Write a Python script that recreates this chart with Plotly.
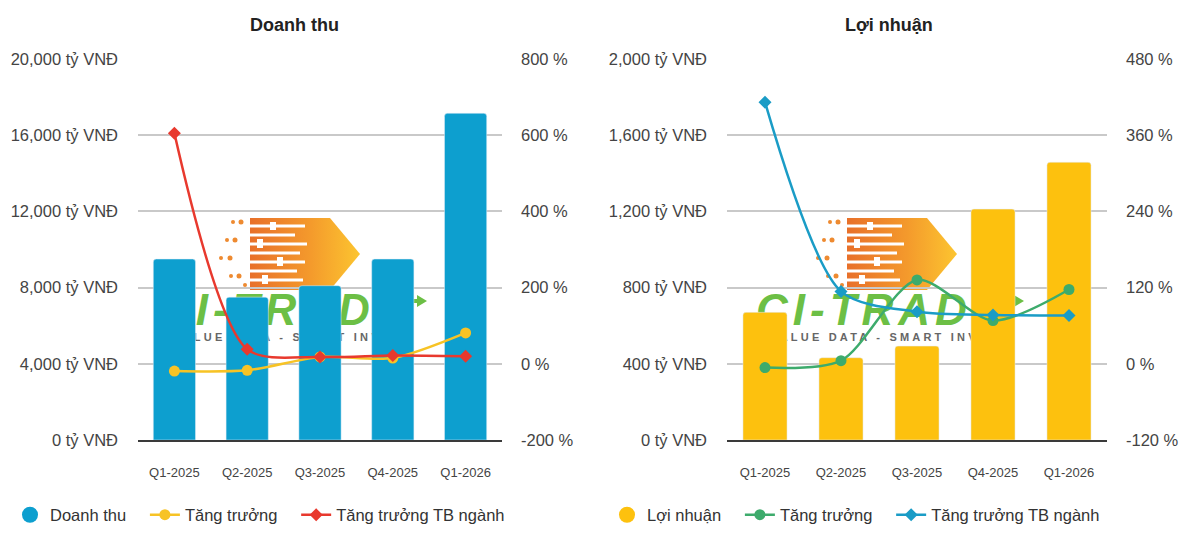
import base64
import plotly.graph_objects as go

quarters = ["Q1-2025", "Q2-2025", "Q3-2025", "Q4-2025", "Q1-2026"]
doanh_thu = [9500, 7500, 8100, 9500, 17150]
dt_growth = [-19, -17, 18, 15, 81]
dt_industry = [605, 38, 18, 22, 20]
loi_nhuan = [670, 432, 493, 1212, 1458]
ln_growth = [-6, 5, 132, 68, 117]
ln_industry = [412, 114, 82, 77, 76]

dt_ticks = [0, 4000, 8000, 12000, 16000, 20000]
dt_pct_ticks = [-200, 0, 200, 400, 600, 800]
ln_ticks = [0, 400, 800, 1200, 1600, 2000]
ln_pct_ticks = [-120, 0, 120, 240, 360, 480]

W, H = 1183, 533
FONT = "Liberation Sans, Arial, sans-serif"
TXT = "#444444"
NB = "\u00a0"

BLUE_BAR = "#0d9fcf"
YEL_BAR = "#fdc10e"
RED = "#e8392e"
YEL = "#f7c325"
GREEN = "#3dab6c"
BLUE_LINE = "#1a9cc6"

# watermark logo as svg
svg = """<svg xmlns='http://www.w3.org/2000/svg' width='275' height='130' viewBox='0 0 275 130'>
<defs><linearGradient id='g' x1='0' x2='1' y1='0' y2='0'>
<stop offset='0' stop-color='#e8702a'/><stop offset='0.55' stop-color='#f49a2c'/><stop offset='1' stop-color='#fcc530'/></linearGradient></defs>
<polygon points='95,3 175,3 205,39 175,75 95,75' fill='url(#g)'/>
<g stroke='#ffffff' stroke-width='3'>
<line x1='60' y1='11' x2='150' y2='11'/><line x1='60' y1='20' x2='140' y2='20'/>
<line x1='60' y1='29' x2='152' y2='29'/><line x1='60' y1='38' x2='145' y2='38'/>
<line x1='60' y1='47' x2='150' y2='47'/><line x1='60' y1='56' x2='142' y2='56'/>
<line x1='60' y1='65' x2='148' y2='65'/></g>
<g stroke='#ffffff' stroke-width='6'>
<line x1='118' y1='7' x2='118' y2='15'/><line x1='105' y1='24' x2='105' y2='33'/>
<line x1='125' y1='42' x2='125' y2='51'/><line x1='110' y1='60' x2='110' y2='69'/></g>
<g fill='#ee8a30'><circle cx='78' cy='7' r='2'/><circle cx='86' cy='7' r='2.5'/><circle cx='72' cy='25' r='2'/>
<circle cx='80' cy='25' r='2.5'/><circle cx='66' cy='43' r='2'/><circle cx='75' cy='43' r='2.5'/>
<circle cx='76' cy='61' r='2'/><circle cx='84' cy='61' r='2.5'/><circle cx='90' cy='70' r='2'/></g>
<text x='4' y='110' font-family='Liberation Sans, Arial' font-size='44' font-style='italic' font-weight='bold' fill='#6cbf45' letter-spacing='5'>CI-TRADE</text>
<polygon points='252,84 262,84 262,80 272,86 262,92 262,88 252,88' fill='#6cbf45'/>
<text x='18' y='126' font-family='Liberation Sans, Arial' font-size='11' font-weight='bold' fill='#666666' letter-spacing='3.2'>VALUE DATA - SMART INVEST</text>
</svg>"""
logo = "data:image/svg+xml;base64," + base64.b64encode(svg.encode("utf-8")).decode()

fig = go.Figure()

# left chart
fig.add_trace(go.Bar(x=quarters, y=doanh_thu, marker=dict(color=BLUE_BAR, cornerradius=3),
                     xaxis="x", yaxis="y", showlegend=False, hoverinfo="y"))
fig.add_trace(go.Scatter(x=[None], y=[None], mode="markers", name="Doanh thu" + NB * 3,
                         marker=dict(color=BLUE_BAR, size=17, symbol="circle"),
                         xaxis="x", yaxis="y", legend="legend"))
fig.add_trace(go.Scatter(x=quarters, y=dt_growth, mode="lines+markers", name="Tăng trưởng" + NB * 3,
                         line=dict(color=YEL, width=2.5, shape="spline", smoothing=0.8),
                         marker=dict(color=YEL, size=11, symbol="circle"),
                         xaxis="x", yaxis="y2", legend="legend"))
fig.add_trace(go.Scatter(x=quarters, y=dt_industry, mode="lines+markers", name="Tăng trưởng TB ngành",
                         line=dict(color=RED, width=2.5, shape="spline", smoothing=0.8),
                         marker=dict(color=RED, size=10, symbol="diamond"),
                         xaxis="x", yaxis="y2", legend="legend"))

# right chart
fig.add_trace(go.Bar(x=quarters, y=loi_nhuan, marker=dict(color=YEL_BAR, cornerradius=3),
                     xaxis="x2", yaxis="y3", showlegend=False, hoverinfo="y"))
fig.add_trace(go.Scatter(x=[None], y=[None], mode="markers", name="Lợi nhuận" + NB * 3,
                         marker=dict(color=YEL_BAR, size=17, symbol="circle"),
                         xaxis="x2", yaxis="y3", legend="legend2"))
fig.add_trace(go.Scatter(x=quarters, y=ln_growth, mode="lines+markers", name="Tăng trưởng" + NB * 3,
                         line=dict(color=GREEN, width=2.5, shape="spline", smoothing=0.8),
                         marker=dict(color=GREEN, size=11, symbol="circle"),
                         xaxis="x2", yaxis="y4", legend="legend2"))
fig.add_trace(go.Scatter(x=quarters, y=ln_industry, mode="lines+markers", name="Tăng trưởng TB ngành",
                         line=dict(color=BLUE_LINE, width=2.5, shape="spline", smoothing=0.8),
                         marker=dict(color=BLUE_LINE, size=10, symbol="diamond"),
                         xaxis="x2", yaxis="y4", legend="legend2"))

ydom = [1 - 440 / H, 1 - 59 / H]
xdom1 = [138 / W, 502 / W]
xdom2 = [727 / W, 1107 / W]

tickfont = dict(family=FONT, size=16.5, color=TXT)
catfont = dict(family=FONT, size=13, color=TXT)
grid = "#c9c9c9"

def xax(dom, anchor):
    return dict(domain=dom, anchor=anchor, type="category", showgrid=False,
                showline=True, linecolor="#3a3a3a", linewidth=1.5,
                tickfont=catfont, ticks="", ticklabelstandoff=20, zeroline=False, fixedrange=True)

def yleft(ticks, anchor):
    return dict(domain=ydom, anchor=anchor, range=[ticks[0], ticks[-1]],
                tickmode="array", tickvals=ticks,
                ticktext=[f"{v:,} tỷ VNĐ" for v in ticks],
                showgrid=True, gridcolor=grid, gridwidth=1.5, zeroline=False,
                tickfont=tickfont, ticklabelstandoff=19, showline=False)

def yright(ticks, anchor, over):
    return dict(overlaying=over, side="right", anchor=anchor, range=[ticks[0], ticks[-1]],
                tickmode="array", tickvals=ticks,
                ticktext=[f"{v} %" for v in ticks],
                showgrid=False, zeroline=False, tickfont=tickfont,
                ticklabelstandoff=18, showline=False)

legfont = dict(family=FONT, size=16.5, color="#333333")

fig.update_layout(
    width=W, height=H,
    margin=dict(l=0, r=0, t=0, b=0, autoexpand=False),
    paper_bgcolor="white", plot_bgcolor="white",
    font=dict(family=FONT, color=TXT),
    bargap=0.42,
    xaxis=xax(xdom1, "y"),
    yaxis=yleft(dt_ticks, "x"),
    yaxis2=yright(dt_pct_ticks, "x", "y"),
    xaxis2=xax(xdom2, "y3"),
    yaxis3=yleft(ln_ticks, "x2"),
    yaxis4=yright(ln_pct_ticks, "x2", "y3"),
    legend=dict(orientation="h", x=10 / W, y=1 - 515 / H, xanchor="left", yanchor="middle",
                font=legfont, bgcolor="rgba(0,0,0,0)", itemsizing="trace"),
    legend2=dict(orientation="h", x=607 / W, y=1 - 515 / H, xanchor="left", yanchor="middle",
                 font=legfont, bgcolor="rgba(0,0,0,0)", itemsizing="trace"),
    annotations=[
        dict(text="<b>Doanh thu</b>", x=294 / W, y=1 - 25 / H, xref="paper", yref="paper",
             xanchor="center", yanchor="middle", showarrow=False,
             font=dict(family=FONT, size=18, color="#222222")),
        dict(text="<b>Lợi nhuận</b>", x=889 / W, y=1 - 25 / H, xref="paper", yref="paper",
             xanchor="center", yanchor="middle", showarrow=False,
             font=dict(family=FONT, size=18, color="#222222")),
    ],
    images=[
        dict(source=logo, xref="paper", yref="paper", x=155 / W, y=1 - 215 / H,
             sizex=275 / W, sizey=130 / H, xanchor="left", yanchor="top",
             sizing="stretch", layer="below", opacity=1),
        dict(source=logo, xref="paper", yref="paper", x=752 / W, y=1 - 215 / H,
             sizex=275 / W, sizey=130 / H, xanchor="left", yanchor="top",
             sizing="stretch", layer="below", opacity=1),
    ],
)

fig.write_html("out.html")
